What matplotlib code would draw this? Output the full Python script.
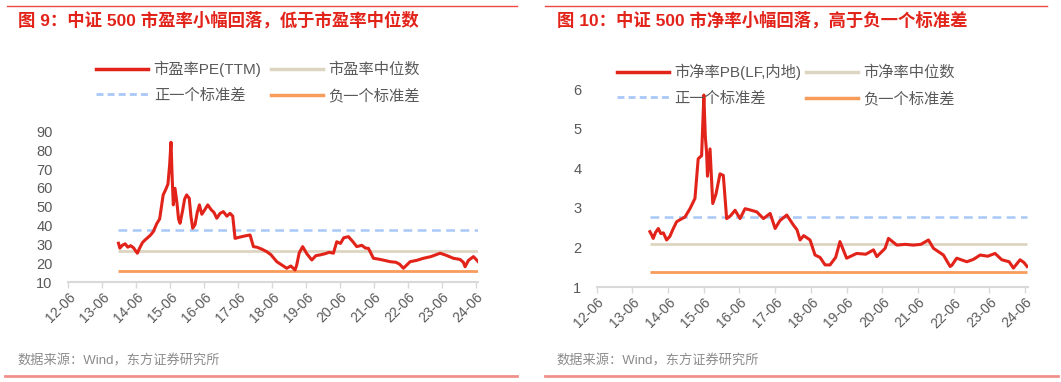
import matplotlib
matplotlib.use('Agg')
import matplotlib.pyplot as plt
import matplotlib.dates as mdates
from matplotlib.lines import Line2D
import pandas as pd

plt.rcParams['font.family'] = ['Liberation Sans', 'Noto Sans CJK SC', 'DejaVu Sans']

# ---- data ----
pe_dates = ['2013-11-25', '2013-12-10', '2014-01-05', '2014-02-05', '2014-03-05', '2014-04-05',
            '2014-05-05', '2014-06-16', '2014-07-10', '2014-08-10', '2014-09-10', '2014-10-10',
            '2014-11-05', '2014-12-04', '2015-01-10', '2015-02-10', '2015-03-20', '2015-04-15',
            '2015-05-10', '2015-05-28', '2015-06-12', '2015-06-25', '2015-07-07', '2015-07-25',
            '2015-08-15', '2015-09-01', '2015-09-17', '2015-10-15', '2015-11-05', '2015-11-27',
            '2015-12-25', '2016-01-12', '2016-01-31', '2016-02-25', '2016-03-20', '2016-04-12',
            '2016-05-08', '2016-06-10', '2016-07-11', '2016-08-15', '2016-09-15', '2016-10-16',
            '2016-11-20', '2016-12-25', '2017-02-01', '2017-03-07', '2017-04-05', '2017-04-30',
            '2017-06-15', '2017-08-15', '2017-10-08', '2017-11-13', '2017-12-20', '2018-02-10',
            '2018-04-06', '2018-05-20', '2018-07-22', '2018-09-15', '2018-11-06', '2018-12-20',
            '2019-02-03', '2019-02-21', '2019-03-20', '2019-04-26', '2019-06-10', '2019-08-02',
            '2019-09-15', '2019-10-30', '2019-12-20', '2020-02-05', '2020-03-21', '2020-04-26',
            '2020-06-05', '2020-07-10', '2020-08-29', '2020-10-15', '2020-11-27', '2021-01-20',
            '2021-03-01', '2021-04-01', '2021-05-25', '2021-07-15', '2021-09-20', '2021-11-20',
            '2022-01-20', '2022-03-01', '2022-04-12', '2022-06-23', '2022-09-01', '2022-11-12',
            '2023-02-01', '2023-05-11', '2023-07-15', '2023-10-01', '2023-12-10', '2024-01-15',
            '2024-02-03', '2024-03-10', '2024-05-03', '2024-06-23']
pe_values = [30.6, 28.0, 29.5, 30.3, 28.5, 29.3,
             28.2, 25.3, 28.0, 31.0, 32.5, 33.8,
             35.0, 36.8, 41.0, 43.5, 56.3, 59.0,
             62.0, 72.0, 84.3, 65.0, 51.0, 59.8,
             52.0, 43.5, 41.2, 48.0, 54.0, 56.3,
             54.5, 45.0, 38.6, 40.5, 47.0, 51.0,
             46.0, 48.5, 51.0, 48.5, 47.0, 43.9,
             46.5, 47.4, 45.0, 46.5, 45.0, 33.2,
             33.8, 34.5, 35.0, 28.8, 28.5, 27.5,
             26.1, 24.5, 20.8, 19.0, 17.3, 18.5,
             16.4, 19.0, 25.5, 28.8, 25.0, 21.7,
             24.0, 24.4, 25.0, 25.8, 25.3, 31.4,
             30.5, 33.5, 34.1, 31.5, 28.8, 29.5,
             28.0, 27.9, 22.6, 22.2, 21.5, 20.8,
             20.5, 19.5, 17.3, 20.8, 21.5, 22.6,
             23.5, 25.3, 24.2, 22.6, 22.0, 20.5,
             18.1, 21.5, 23.5, 20.8]
pe_median, pe_plus_sd, pe_minus_sd = 26.7, 37.9, 15.8

pb_dates = ['2013-11-28', '2013-12-20', '2014-01-01', '2014-01-25', '2014-02-22', '2014-03-20',
            '2014-04-15', '2014-05-18', '2014-06-20', '2014-07-20', '2014-08-28', '2014-10-01',
            '2014-11-22', '2015-01-12', '2015-03-04', '2015-04-06', '2015-05-11', '2015-06-03',
            '2015-06-18', '2015-07-01', '2015-07-10', '2015-08-05', '2015-09-02', '2015-10-05',
            '2015-11-15', '2015-12-19', '2016-01-22', '2016-03-01', '2016-04-17', '2016-06-07',
            '2016-07-28', '2016-09-15', '2016-11-25', '2017-02-01', '2017-04-11', '2017-06-01',
            '2017-07-20', '2017-09-28', '2017-12-04', '2018-01-10', '2018-02-11', '2018-03-20',
            '2018-05-24', '2018-07-14', '2018-09-03', '2018-10-25', '2018-12-14', '2019-02-10',
            '2019-03-26', '2019-06-02', '2019-09-13', '2019-12-15', '2020-03-03', '2020-04-06',
            '2020-06-30', '2020-08-03', '2020-10-28', '2021-01-20', '2021-04-15', '2021-07-01',
            '2021-09-16', '2021-11-06', '2022-02-16', '2022-04-26', '2022-05-13', '2022-07-02',
            '2022-10-13', '2022-12-20', '2023-02-27', '2023-05-15', '2023-07-29', '2023-10-06',
            '2023-12-20', '2024-02-02', '2024-04-10', '2024-05-20', '2024-06-21']
pb_values = [2.40, 2.30, 2.23, 2.38, 2.48, 2.35,
             2.37, 2.19, 2.28, 2.45, 2.65, 2.70,
             2.77, 2.98, 3.24, 4.24, 4.32, 5.85,
             4.80, 4.40, 3.80, 4.49, 3.11, 3.35,
             3.86, 3.82, 2.73, 2.80, 2.94, 2.73,
             2.98, 2.95, 2.90, 2.73, 2.86, 2.48,
             2.68, 2.82, 2.57, 2.45, 2.19, 2.30,
             2.19, 1.81, 1.75, 1.56, 1.56, 1.75,
             2.15, 1.73, 1.85, 1.83, 1.94, 1.77,
             1.98, 2.23, 2.06, 2.08, 2.06, 2.08,
             2.19, 1.98, 1.81, 1.52, 1.55, 1.73,
             1.64, 1.70, 1.81, 1.78, 1.85, 1.69,
             1.64, 1.48, 1.69, 1.62, 1.52]
pb_median, pb_plus_sd, pb_minus_sd = 2.09, 2.77, 1.39

tick_dates = ['%d-06-01' % y for y in range(2012, 2025)]

RED = '#e2231a'
MED = '#ddd5c2'
BLUE = '#a8c8f8'
ORANGE = '#f89c5c'
GRAY = '#595959'
W, H = 1061, 382


def draw_panel(fig, rect, dates, values, med, plus, minus, ylim, yticks, labels):
    ax = fig.add_axes(rect)
    d = pd.to_datetime(dates)
    span = [d[0], d[-1]]
    ax.plot(span, [med, med], color=MED, lw=2.0, solid_capstyle='butt')
    ax.plot(span, [plus, plus], color=BLUE, lw=1.8, ls=(0, (3.5, 2.2)))
    ax.plot(span, [minus, minus], color=ORANGE, lw=2.0, solid_capstyle='butt')
    ax.plot(d, values, color=RED, lw=2.2)
    ax.set_xlim(pd.Timestamp('2012-06-01'), pd.Timestamp('2024-06-25'))
    ax.set_ylim(*ylim)
    ax.set_yticks(yticks)
    ax.set_xticks(pd.to_datetime(tick_dates))
    ax.xaxis.set_major_formatter(mdates.DateFormatter('%y-%m'))
    for s in ['top', 'right', 'left']:
        ax.spines[s].set_visible(False)
    ax.spines['bottom'].set_color('#d9d9d9')
    ax.spines['bottom'].set_linewidth(1.5)
    ax.tick_params(axis='y', length=0, pad=11, labelsize=10.5, labelcolor=GRAY)
    ax.tick_params(axis='x', length=4, width=1, color='#d9d9d9', pad=2,
                   labelsize=10, labelcolor=GRAY)
    for t in ax.get_xticklabels():
        t.set_rotation(45)
        t.set_ha('right')
        t.set_rotation_mode('anchor')
    ax.set_facecolor('none')
    handles = [Line2D([], [], color=RED, lw=2.5),
               Line2D([], [], color=BLUE, lw=2.0, ls=(0, (2.5, 1.5))),
               Line2D([], [], color=MED, lw=2.5),
               Line2D([], [], color=ORANGE, lw=2.5)]
    names = [labels[0], labels[2], labels[1], labels[3]]
    return ax, handles, names


fig = plt.figure(figsize=(W / 100, H / 100), dpi=100)

# left panel: PE
ax1, h1, n1 = draw_panel(fig, [68 / W, 1 - 282 / H, 410.4 / W, 150.5 / H],
                         pe_dates, pe_values, pe_median, pe_plus_sd, pe_minus_sd,
                         (10, 90), range(10, 91, 10),
                         ['市盈率PE(TTM)', '市盈率中位数', '正一个标准差', '负一个标准差'])
fig.legend(h1, n1, ncol=2, loc='center', bbox_to_anchor=(258 / W, 1 - 82 / H),
           frameon=False, fontsize=11, labelcolor=GRAY, handlelength=3.4,
           handletextpad=0.35, columnspacing=0.6, labelspacing=0.75)

# right panel: PB
ax2, h2, n2 = draw_panel(fig, [596.6 / W, 1 - 287.1 / H, 430.9 / W, 198 / H],
                         pb_dates, pb_values, pb_median, pb_plus_sd, pb_minus_sd,
                         (1, 6), range(1, 7),
                         ['市净率PB(LF,内地)', '市净率中位数', '正一个标准差', '负一个标准差'])
fig.legend(h2, n2, ncol=2, loc='center', bbox_to_anchor=(786 / W, 1 - 85 / H),
           frameon=False, fontsize=11, labelcolor=GRAY, handlelength=3.4,
           handletextpad=0.35, columnspacing=0.3, labelspacing=0.75)

# titles, rules and source notes
fig.text(18 / W, 1 - 20 / H, '图 9：中证 500 市盈率小幅回落，低于市盈率中位数',
         color=RED, fontsize=12.5, fontweight='bold', va='center', ha='left')
fig.text(557 / W, 1 - 20 / H, '图 10：中证 500 市净率小幅回落，高于负一个标准差',
         color=RED, fontsize=12.5, fontweight='bold', va='center', ha='left')
for x0, x1 in [(7, 517), (545, 1047)]:
    fig.add_artist(Line2D([x0 / W, x1 / W], [1 - 6 / H, 1 - 6 / H], color='#ee4a44', lw=1.0))
for x0, x1 in [(5, 517), (545, 1058)]:
    fig.add_artist(Line2D([x0 / W, x1 / W], [1 - 376 / H, 1 - 376 / H], color='#f0908a', lw=2.0))
fig.text(17 / W, 1 - 361 / H, '数据来源：Wind，东方证券研究所', color='#8c8c8c',
         fontsize=9.5, va='center', ha='left')
fig.text(556 / W, 1 - 361 / H, '数据来源：Wind，东方证券研究所', color='#8c8c8c',
         fontsize=9.5, va='center', ha='left')

fig.savefig('out.png', dpi=100)
